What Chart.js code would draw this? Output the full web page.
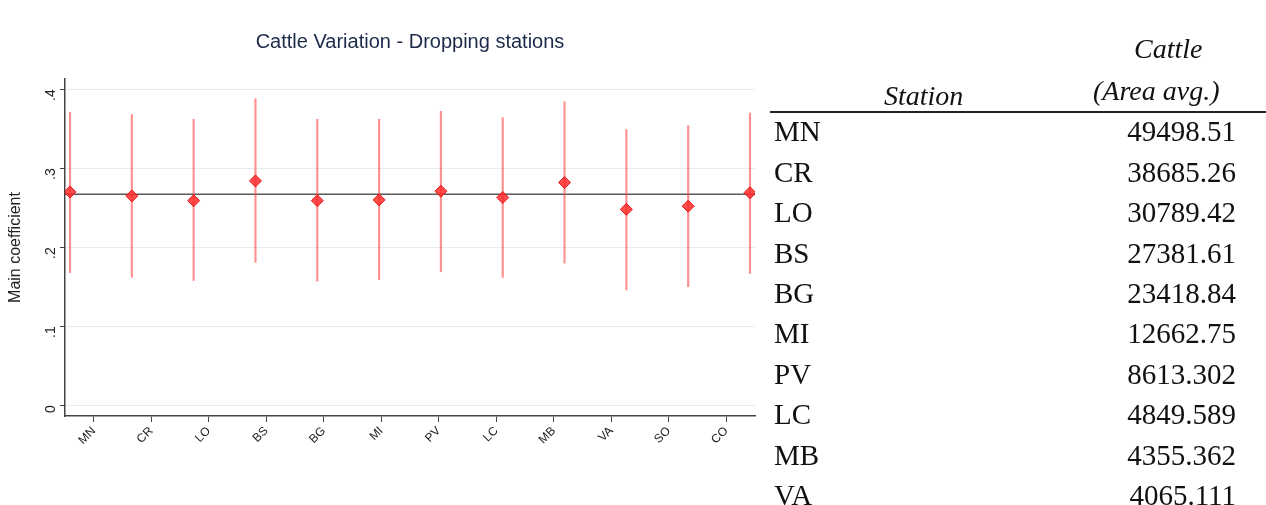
<!DOCTYPE html>
<html><head><meta charset="utf-8">
<script src="https://cdn.jsdelivr.net/npm/chart.js@4.4.1/dist/chart.umd.min.js"></script>
<style>
html,body{margin:0;padding:0;background:#fff;width:1266px;height:505px;overflow:hidden;}
#wrap{position:absolute;left:0;top:0;width:770px;height:505px;}
#tbl{position:absolute;left:0;top:0;width:1266px;height:505px;font-family:"Liberation Serif","Times New Roman",serif;color:#111;pointer-events:none;}
.t{position:absolute;white-space:nowrap;font-size:29px;line-height:29px;height:29px;}
.num{text-align:right;}
.hd{font-style:italic;font-size:28px;}
#rule{position:absolute;left:770px;top:111px;width:496px;height:2px;background:#222;}
</style></head><body>
<div id="wrap"><canvas id="c" width="770" height="505"></canvas></div>
<div id="tbl"><div id="rule"></div></div>
<script>
// ---- data ----
const stations = ['MN','CR','LO','BS','BG','MI','PV','LC','MB','VA','SO','CO'];
const coef   = [0.270,0.265,0.259,0.284,0.259,0.260,0.271,0.263,0.282,0.248,0.252,0.269];
const ciLow  = [0.168,0.162,0.158,0.181,0.157,0.159,0.169,0.162,0.180,0.146,0.150,0.167];
const ciHigh = [0.371,0.368,0.362,0.388,0.362,0.362,0.372,0.364,0.384,0.349,0.354,0.370];
const refLine = 0.267;
const yTicks = [0, 0.1, 0.2, 0.3, 0.4];
const tableStations = ['MN','CR','LO','BS','BG','MI','PV','LC','MB','VA'];
const cattleAvg = ['49498.51','38685.26','30789.42','27381.61','23418.84','12662.75','8613.302','4849.589','4355.362','4065.111'];
const titleText = 'Cattle Variation - Dropping stations';
const yTitle = 'Main coefficient';
const headStation = 'Station';
const headCattle1 = 'Cattle';
const headCattle2 = '(Area avg.)';

// ---- chart ----
const pointData = coef.map((v,i)=>({x:i,y:v}));
const ciData = ciLow.map((v,i)=>({x:i,y:[v,ciHigh[i]]}));
function fmtTick(v){ if (Math.abs(v)<1e-9) return '0'; return v.toFixed(1).replace(/^0/,''); }

const refPlugin = {
  id:'refLine',
  beforeDatasetsDraw(chart){
    const {ctx, chartArea, scales} = chart;
    const y = scales.y.getPixelForValue(refLine);
    ctx.save();
    ctx.strokeStyle = '#5a5a5a';
    ctx.lineWidth = 1.5;
    ctx.beginPath();
    ctx.moveTo(chartArea.left, y);
    ctx.lineTo(chartArea.right, y);
    ctx.stroke();
    ctx.restore();
  }
};

new Chart(document.getElementById('c').getContext('2d'), {
  data:{ datasets:[
    {type:'bar', data:ciData, xAxisID:'xp', yAxisID:'y', backgroundColor:'rgba(255,70,70,0.6)', borderWidth:0, barThickness:1.5, grouped:false, order:2},
    {type:'scatter', data:pointData, xAxisID:'xp', yAxisID:'y', pointStyle:'rectRot', pointRadius:6, pointHoverRadius:6, backgroundColor:'rgba(255,45,45,0.85)', borderColor:'#e61919', borderWidth:1, order:1}
  ]},
  options:{
    animation:false, responsive:false, devicePixelRatio:1,
    layout:{padding:{left:0,right:15,top:0,bottom:19}},
    plugins:{
      legend:{display:false}, tooltip:{enabled:false},
      title:{display:true, text:titleText, fullSize:false, color:'#1c2a4a',
        font:{family:'Liberation Sans', size:20, weight:'normal'}, padding:{top:30,bottom:25}}
    },
    scales:{
      xp:{type:'linear', display:false, offset:false, grid:{offset:false}, min:-0.081, max:11.081},
      x:{type:'category', labels:stations, offset:true, position:'bottom',
        grid:{drawOnChartArea:false, offset:false, tickLength:6, tickColor:'#444'},
        border:{color:'#444', width:1.5},
        ticks:{minRotation:45, maxRotation:45, autoSkip:false, color:'#222', padding:2,
          font:{family:'Liberation Sans', size:12}},
        afterFit(s){ s.height = 70; }
      },
      y:{type:'linear', min:-0.0136, max:0.413,
        afterBuildTicks(s){ s.ticks = yTicks.map(v=>({value:v})); },
        grid:{color:'#e3ecef', tickColor:'#444', tickLength:5, lineWidth:1},
        border:{color:'#444', width:1.5},
        ticks:{minRotation:90, maxRotation:90, color:'#222', padding:9,
          font:{family:'Liberation Sans', size:14}, callback:(v)=>fmtTick(v)},
        title:{display:true, text:yTitle, color:'#222', padding:{top:6,bottom:0},
          font:{family:'Liberation Sans', size:16}},
        afterFit(s){ s.width = 65; }
      }
    }
  },
  plugins:[refPlugin]
});

// ---- table ----
const tbl = document.getElementById('tbl');
function addText(txt, cls, style){
  const d = document.createElement('div');
  d.className = 't ' + cls;
  d.textContent = txt;
  Object.assign(d.style, style);
  tbl.appendChild(d);
  return d;
}
const hs = addText(headStation, 'hd', {top:'81px', left:'0px'});
const hc1 = addText(headCattle1, 'hd', {top:'34px', left:'0px'});
const hc2 = addText(headCattle2, 'hd', {top:'76px', left:'0px'});
function centerAt(el, cx){ el.style.left = (cx - el.offsetWidth/2) + 'px'; }
centerAt(hs, 923.5); centerAt(hc1, 1168); centerAt(hc2, 1156);
tableStations.forEach((s,i)=>{
  const top = 132 + 40.4*i - 14.7;
  addText(s, '', {top: top+'px', left:'774px'});
  addText(cattleAvg[i], 'num', {top: top+'px', right:'30px'});
});
</script>
</body></html>
